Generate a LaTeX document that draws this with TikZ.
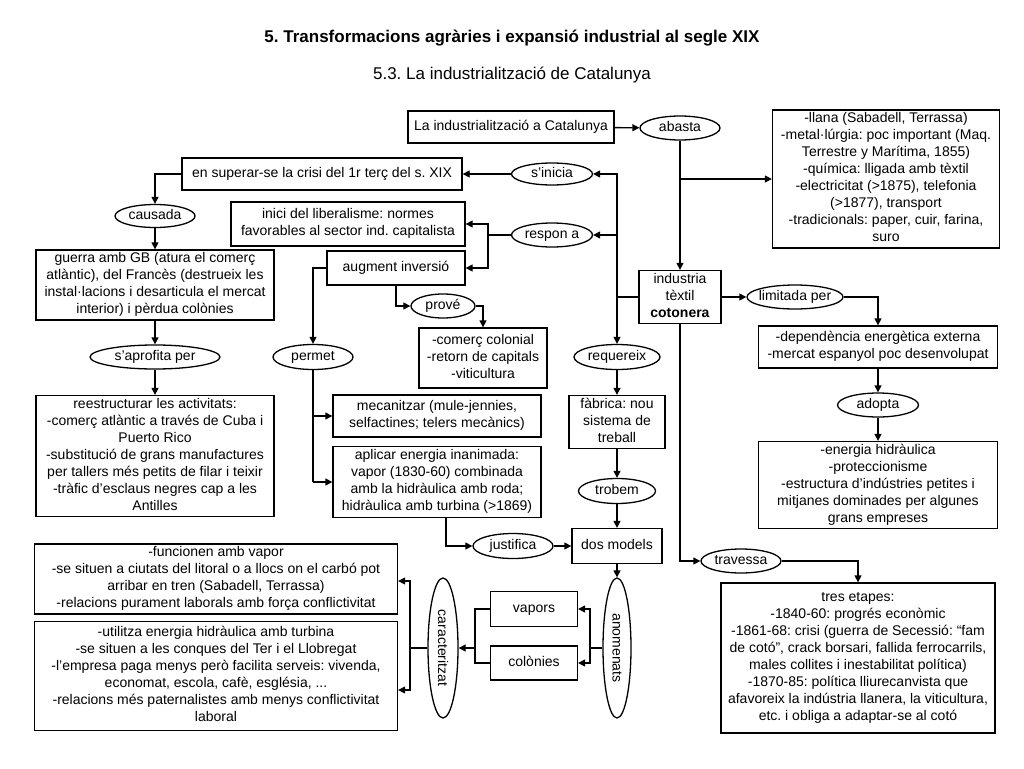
\documentclass[tikz,border=0pt]{standalone}
\usepackage{fontspec}
\usepackage{graphicx}
\setmainfont{Liberation Sans}
\usetikzlibrary{shapes.geometric,arrows.meta}
\frenchspacing
\newcommand{\mlines}[1]{\begin{tabular}{@{}c@{}}#1\end{tabular}}
\begin{document}
\begin{tikzpicture}[x=1pt, y=-1pt, line width=1.3pt,
  box/.style={draw, rectangle, inner sep=1pt, font=\fontsize{14}{17}\selectfont},
  oneline/.style={text height=10pt, text depth=3pt},
  oval/.style={draw, ellipse, inner ysep=0pt, inner xsep=-3pt,
    text height=10pt, text depth=3pt, font=\fontsize{14}{17}\selectfont},
  voval/.style={draw, ellipse, inner sep=0pt, font=\fontsize{14}{17}\selectfont},
  arr/.style={-{Triangle[length=7pt,width=7pt]}}]
\useasboundingbox (0,0) rectangle (1024,768);
\node[font=\fontsize{17}{20}\selectfont\bfseries] (title) at (512,38)
  {5. Transformacions agràries i expansió industrial al segle XIX};
\node[font=\fontsize{17}{20}\selectfont] (subtitle) at (512,75)
  {5.3. La industrialització de Catalunya};

\node[box, oneline, minimum width=206, minimum height=32] (catal) at (511,127) {La industrialització a Catalunya};
\node[oval, minimum width=80, minimum height=24] (abasta) at (680,128) {abasta};
\node[box, minimum width=227, minimum height=138] (llana) at (886,179)
  {\mlines{-llana (Sabadell, Terrassa)\\-metal·lúrgia: poc important (Maq.\\Terrestre y Marítima, 1855)\\-química: lligada amb tèxtil\\-electricitat (>1875), telefonia\\(>1877), transport\\-tradicionals: paper, cuir, farina,\\suro}};
\node[box, oneline, minimum width=280, minimum height=32] (superar) at (322,174) {en superar-se la crisi del 1r terç del s. XIX};
\node[oval, minimum width=81, minimum height=22] (sinicia) at (552,174) {s’inicia};
\node[box, minimum width=234, minimum height=44] (inici) at (348,224)
  {\mlines{inici del liberalisme: normes\\favorables al sector ind. capitalista}};
\node[oval, minimum width=81, minimum height=24] (respon) at (552,235) {respon a};
\node[box, oneline, minimum width=138, minimum height=34] (augment) at (396,268) {augment inversió};
\node[oval, minimum width=64, minimum height=24] (prove) at (443,306) {prové};
\node[box, minimum width=128, minimum height=60] (comerc) at (483,358)
  {\mlines{-comerç colonial\\-retorn de capitals\\-viticultura}};
\node[box, minimum width=82, minimum height=50] (industria) at (680,297)
  {\mlines{industria\\tèxtil\\\textbf{cotonera}}};
\node[oval, minimum width=96, minimum height=24] (limitada) at (795,297) {limitada per};
\node[box, minimum width=239, minimum height=42] (dependencia) at (878,347)
  {\mlines{-dependència energètica externa\\-mercat espanyol poc desenvolupat}};
\node[oval, minimum width=81, minimum height=24] (adopta) at (878,405) {adopta};
\node[box, minimum width=239, minimum height=85] (energia) at (878,485)
  {\mlines{-energia hidràulica\\-proteccionisme\\-estructura d’indústries petites i\\mitjanes dominades per algunes\\grans empreses}};
\node[oval, minimum width=80, minimum height=24] (travessa) at (741,561) {travessa};
\node[box, minimum width=274, minimum height=150] (tres) at (858,658)
  {\mlines{tres etapes:\\-1840-60: progrés econòmic\\-1861-68: crisi (guerra de Secessió: “fam\\de cotó”, crack borsari, fallida ferrocarrils,\\males collites i inestabilitat política)\\-1870-85: política lliurecanvista que\\afavoreix la indústria llanera, la viticultura,\\etc. i obliga a adaptar-se al cotó}};
\node[oval, minimum width=86, minimum height=25] (requereix) at (617,357) {requereix};
\node[box, minimum width=96, minimum height=51] (fabrica) at (617,422) {\mlines{fàbrica: nou\\sistema de\\treball}};
\node[oval, minimum width=77, minimum height=25] (trobem) at (617,491) {trobem};
\node[box, oneline, minimum width=90, minimum height=35] (dosmodels) at (617,546) {dos models};
\node[oval, minimum width=80, minimum height=25] (justifica) at (513,546) {justifica};
\node[box, minimum width=208, minimum height=42] (mecanitzar) at (437,416)
  {\mlines{mecanitzar (mule-jennies,\\selfactines; telers mecànics)}};
\node[box, minimum width=208, minimum height=71] (aplicar) at (437,482)
  {\mlines{aplicar energia inanimada:\\vapor (1830-60) combinada\\amb la hidràulica amb roda;\\hidràulica amb turbina (>1869)}};
\node[oval, minimum width=80, minimum height=25] (permet) at (313,357) {permet};
\node[oval, minimum width=80, minimum height=23] (causada) at (155,216) {causada};
\node[box, minimum width=238, minimum height=70] (guerra) at (155,285)
  {\mlines{guerra amb GB (atura el comerç\\atlàntic), del Francès (destrueix les\\instal·lacions i desarticula el mercat\\interior) i pèrdua colònies}};
\node[oval, minimum width=130, minimum height=24] (aprofita) at (155,357) {s’aprofita per};
\node[box, minimum width=238, minimum height=118] (reestructurar) at (155,456)
  {\mlines{reestructurar les activitats:\\-comerç atlàntic a través de Cuba i\\Puerto Rico\\-substitució de grans manufactures\\per tallers més petits de filar i teixir\\-tràfic d’esclaus negres cap a les\\Antilles}};
\node[voval, minimum width=28, minimum height=140] (anomenats) at (617,648) {\rotatebox{-90}{anomenats}};
\node[box, oneline, minimum width=87, minimum height=35] (vapors) at (534,609) {vapors};
\node[box, oneline, minimum width=87, minimum height=34] (colonies) at (534,663) {colònies};
\node[voval, minimum width=30, minimum height=140] (caracteritzat) at (443,648) {\rotatebox{-90}{caracteritzat}};
\node[box, minimum width=363, minimum height=67] (funcionen) at (216,579)
  {\mlines{-funcionen amb vapor\\-se situen a ciutats del litoral o a llocs on el carbó pot\\arribar en tren (Sabadell, Terrassa)\\-relacions purament laborals amb força conflictivitat}};
\node[box, minimum width=363, minimum height=109] (utilitza) at (216,676)
  {\mlines{-utilitza energia hidràulica amb turbina\\-se situen a les conques del Ter i el Llobregat\\-l’empresa paga menys però facilita serveis: vivenda,\\economat, escola, cafè, església, ...\\-relacions més paternalistes amb menys conflictivitat\\laboral}};

\coordinate (spine) at (617,297);
\coordinate (rsp) at (488,235);
\coordinate (an) at (590,648);
\coordinate (vc) at (475,648);
\coordinate (cr) at (410,648);

\draw[arr] (catal) -- (abasta);
\draw[arr] (abasta) -- (industria);
\draw[arr] (abasta.south |- llana.west) -- (llana.west);
\draw (industria.west) -- (spine);
\draw[arr] (spine) |- (sinicia.east);
\draw[arr] (spine) |- (respon.east);
\draw[arr] (spine) -- (requereix.north);
\draw[arr] (sinicia) -- (superar);
\draw (respon.west) -- (rsp);
\draw[arr] (rsp) |- (inici.east);
\draw[arr] (rsp) |- (augment.east);
\draw[arr] (augment.south) |- (prove.west);
\draw[arr] (prove.east) -| (comerc.north);
\draw[arr] (augment.west) -| (permet.north);
\draw (permet.south) -- (permet.south |- aplicar.west);
\draw[arr] (permet.south |- mecanitzar.west) -- (mecanitzar.west);
\draw[arr] (permet.south |- aplicar.west) -- (aplicar.west);
\draw[arr] ([xshift=9pt]aplicar.south) |- (justifica.west);
\draw[arr] (justifica) -- (dosmodels);
\draw[arr] (superar.west) -| (causada.north);
\draw[arr] (causada) -- (guerra);
\draw[arr] (guerra) -- (aprofita);
\draw[arr] (aprofita) -- (reestructurar);
\draw[arr] (requereix) -- (fabrica);
\draw[arr] (fabrica) -- (trobem);
\draw[arr] (trobem) -- (dosmodels);
\draw[arr] (dosmodels) -- (anomenats);
\draw (anomenats.west) -- (an);
\draw[arr] (an) |- (vapors.east);
\draw[arr] (an) |- (colonies.east);
\draw (vapors.west) -| (vc);
\draw (colonies.west) -| (vc);
\draw[arr] (vc) -- (caracteritzat.east);
\draw (caracteritzat.west) -- (cr);
\draw[arr] (cr) |- ([yshift=-2pt]funcionen.east);
\draw[arr] (cr) |- ([yshift=-14pt]utilitza.east);
\draw[arr] (industria) -- (limitada);
\draw[arr] (limitada.east) -| (dependencia.north);
\draw[arr] (dependencia) -- (adopta);
\draw[arr] (adopta) -- (energia);
\draw[arr] (industria.south) |- (travessa.west);
\draw[arr] (travessa.east) -| (tres.north);
\end{tikzpicture}
\end{document}
